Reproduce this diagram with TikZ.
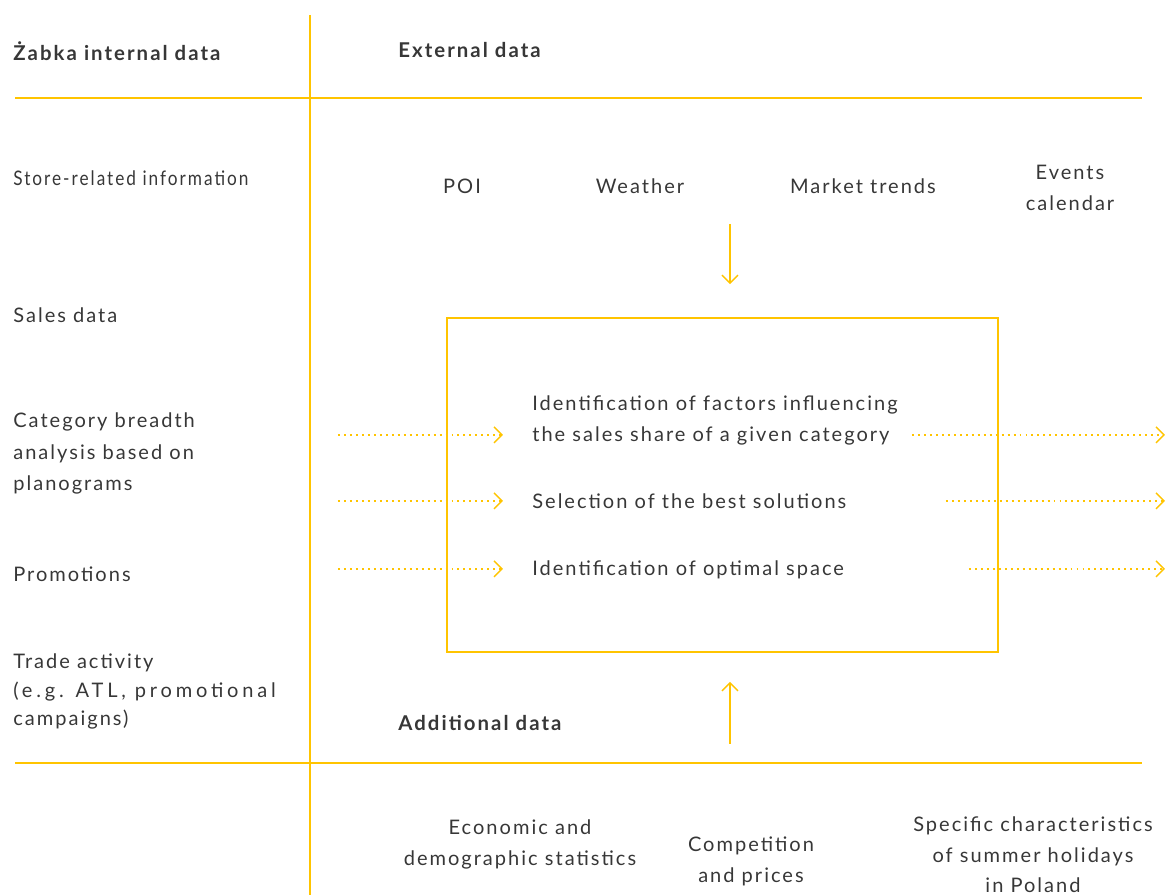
\documentclass[tikz,border=0pt]{standalone}
\usepackage{fontspec}
\setmainfont{Lato}[LetterSpace=10]
\usetikzlibrary{arrows.meta}
\definecolor{zyellow}{RGB}{255,196,0}
\definecolor{ztext}{RGB}{55,55,55}
\begin{document}
\begin{tikzpicture}[scale=0.2]
			\tikzset{every node/.style={inner sep=0pt, text=ztext, font=\fontsize{11.4}{18.2}\selectfont},
				head/.style={font=\fontsize{11.6}{18.2}\selectfont\bfseries},
				rule/.style={zyellow, line width=1.1pt},
				feed/.style={zyellow, line width=0.8pt, -{Straight Barb[length=1.6mm,width=3.2mm]}},
				dots/.style={feed, dash pattern=on 1.1pt off 2.3pt}}
			\useasboundingbox (0,0) rectangle (117,-89.5);
			% grid lines
			\draw [rule] (31,-1.5) -- (31,-89.5);
			\draw [rule] (1.5,-9.8) -- (114.2,-9.8);
			\draw [rule] (1.5,-76.3) -- (114.2,-76.3);
			% headings
			\node [head, anchor=base west] (internal) at (1.3,-6.1) {Żabka internal data};
			\node [head, anchor=base west] (external) at (39.8,-5.8) {External data};
			\node [head, anchor=base west] (additional) at (39.8,-73.1) {Additional data};
			% internal sources
			\node [anchor=base west, font=\fontsize{11.4}{18.2}\selectfont\addfontfeature{FakeStretch=0.86}] (store) at (1.3,-18.6) {Store-related information};
			\node [anchor=base west] (sales) at (1.3,-32.3) {Sales data};
			\node [anchor=base west, align=left] (breadth) at (1.3,-49.1) {Category breadth\\analysis based on\\planograms};
			\node [anchor=base west] (promo) at (1.3,-58.2) {Promotions};
			\node [anchor=base west, align=left, font=\fontsize{11.4}{16.5}\selectfont] (trade) at (1.3,-72.6) {Trade activity\\{\addfontfeature{LetterSpace=19}(e.g. ATL, promotional}\\campaigns)};
			% external sources
			\node [anchor=base] (poi) at (46.2,-19.4) {POI};
			\node [anchor=base] (weather) at (64,-19.4) {Weather};
			\node [anchor=base] (trends) at (86.3,-19.4) {Market trends};
			\node [anchor=base, align=center] (events) at (107,-21.1) {Events\\calendar};
			% additional sources
			\node [anchor=base, align=center] (stats) at (52,-86.6) {Economic and\\demographic statistics};
			\node [anchor=base, align=center] (prices) at (75.1,-88.3) {Competition\\and prices};
			\node [anchor=base, align=center, font=\fontsize{11.4}{17.5}\selectfont] (holidays) at (103.3,-89.3) {Specific characteristics\\of summer holidays\\in Poland};
			% model box
			\node [draw=zyellow, line width=1.1pt, minimum width=11.02cm, minimum height=6.68cm] (model) at (72.25,-48.5) {};
			\node [anchor=base west, align=left] (factors) at (53.2,-44.2) {Identification of factors influencing\\the sales share of a given category};
			\node [anchor=base west] (select) at (53.2,-50.9) {Selection of the best solutions};
			\node [anchor=base west] (space) at (53.2,-57.6) {Identification of optimal space};
			% arrows
			\coordinate (extin) at (73,-22.4);
			\coordinate (addin) at (73,-74.4);
			\draw [feed, shorten >=0.66cm] (extin) -- (extin |- model.north);
			\draw [feed, shorten >=0.58cm] (addin) -- (addin |- model.south);
			\foreach \name/\y/\from in {a/43.5/91.2, b/50.1/94.6, c/56.9/96.9} {
				\coordinate (in\name) at (33.8,-\y);
				\coordinate (inend\name) at (50.3,-\y);
				\coordinate (out\name) at (\from,-\y);
				\coordinate (outend\name) at (116.5,-\y);
				\draw [dots] (in\name) -- (inend\name);
				\draw [dots] (out\name) -- (outend\name);
			}
		\end{tikzpicture}
\end{document}
